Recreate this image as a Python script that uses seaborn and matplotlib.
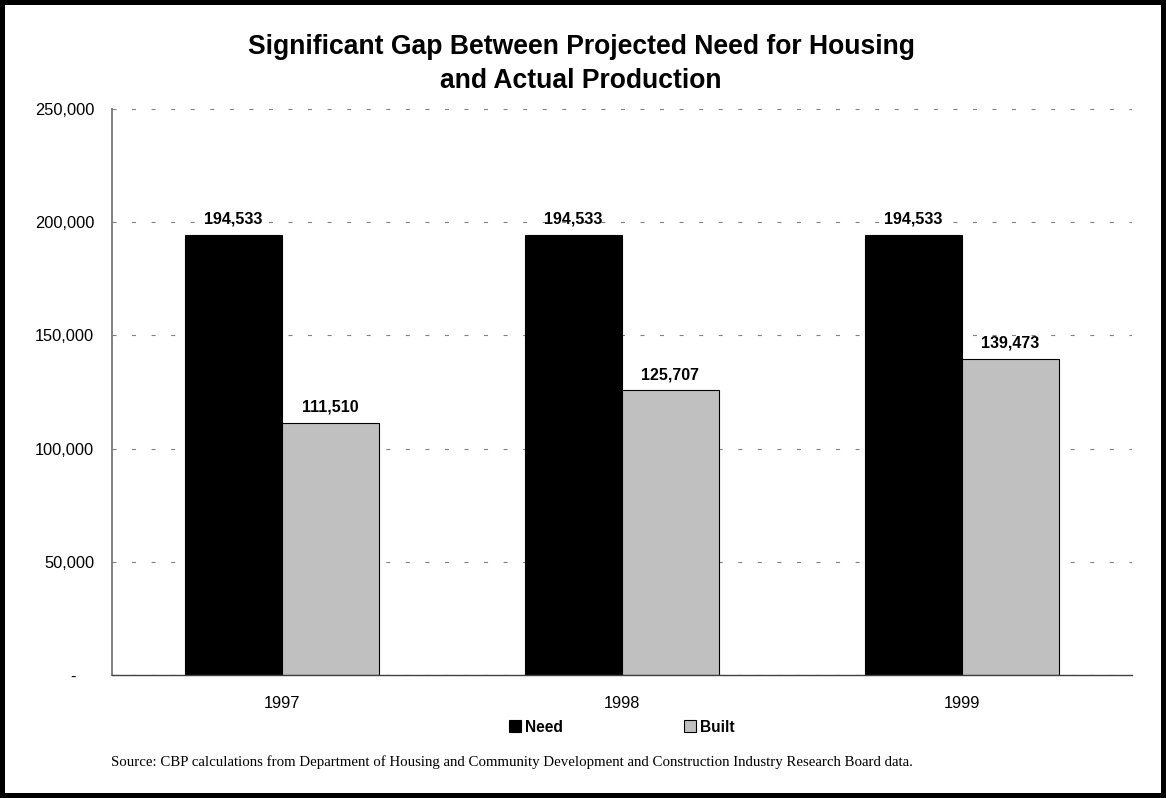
import matplotlib
matplotlib.use("Agg")
import matplotlib.pyplot as plt
from matplotlib.patches import Rectangle
import seaborn as sns
import pandas as pd

years = ["1997", "1998", "1999"]
need = [194533, 194533, 194533]
built = [111510, 125707, 139473]
series_names = ["Need", "Built"]
y_ticks = [0, 50000, 100000, 150000, 200000, 250000]
y_tick_labels = ["-    ", "50,000", "100,000", "150,000", "200,000", "250,000"]
title = "Significant Gap Between Projected Need for Housing\nand Actual Production"
source = ("Source: CBP calculations from Department of Housing and Community Development "
          "and Construction Industry Research Board data.")

df = pd.DataFrame({
    "Year": years * 2,
    "Series": [series_names[0]] * 3 + [series_names[1]] * 3,
    "Value": need + built,
})

sns.set_style("white")
plt.rcParams["font.family"] = ["Liberation Sans", "DejaVu Sans"]
plt.rcParams["text.color"] = "black"
plt.rcParams["xtick.labelcolor"] = "black"
plt.rcParams["ytick.labelcolor"] = "black"

W, H = 1166, 798
fig = plt.figure(figsize=(W / 100, H / 100), dpi=100)
ax = fig.add_axes([112 / W, 1 - 675 / H, (1132 - 112) / W, (675 - 109) / H])

sns.barplot(data=df, x="Year", y="Value", hue="Series", order=years,
            hue_order=series_names, palette={"Need": "#000000", "Built": "#C0C0C0"},
            width=0.57, edgecolor="black", linewidth=0.8, ax=ax, legend=True,
            errorbar=None)

ax.set_xlim(-0.5, 2.5)
ax.set_ylim(0, 250000)
ax.set_yticks(y_ticks)
ax.set_yticklabels(y_tick_labels)
ax.set_xlabel("")
ax.set_ylabel("")
ax.tick_params(axis="y", which="major", direction="out", length=3.6, width=1,
               color="#808080", pad=9.3, labelsize=11.8)
ax.tick_params(axis="x", which="major", length=0, pad=15, labelsize=11.8)
ax.set_xticks([-0.5, 0.5, 1.5, 2.5], minor=True)
ax.tick_params(axis="x", which="minor", direction="out", length=4, width=1, color="#606060")

for side in ["top", "right"]:
    ax.spines[side].set_visible(False)
ax.spines["left"].set_color("#808080")
ax.spines["left"].set_linewidth(1.4)
ax.spines["bottom"].set_color("#404040")
ax.spines["bottom"].set_linewidth(1.0)

ax.set_axisbelow(True)
ax.yaxis.grid(True, color="#808080", linewidth=0.8, linestyle=(0, (3.6, 14.0)))
ax.xaxis.grid(False)

for cont in ax.containers:
    ax.bar_label(cont, labels=[f"{v:,.0f}" for v in cont.datavalues],
                 padding=6, fontsize=11.5, fontweight="bold")

handles, labels = ax.get_legend_handles_labels()
ax.legend(handles, labels, loc="center", bbox_to_anchor=(622 / W, 1 - 727 / H),
          bbox_transform=fig.transFigure, ncol=2, frameon=False,
          handlelength=0.77, handleheight=0.77, handletextpad=0.26,
          columnspacing=7.8, borderpad=0, prop={"weight": "bold", "size": 11.2})

fig.text(581 / W, 1 - 64 / H, title, ha="center", va="center", fontsize=19.1,
         fontweight="bold", linespacing=1.42)

fig.text(111 / W, 1 - 762 / H, source, ha="left", va="center", fontsize=10.75,
         family=["Liberation Serif", "DejaVu Serif"])

fig.patches.append(Rectangle((0, 0), 1, 1, transform=fig.transFigure, fill=False,
                             edgecolor="black", linewidth=7.2, clip_on=False))

fig.savefig("out.png", dpi=100)
